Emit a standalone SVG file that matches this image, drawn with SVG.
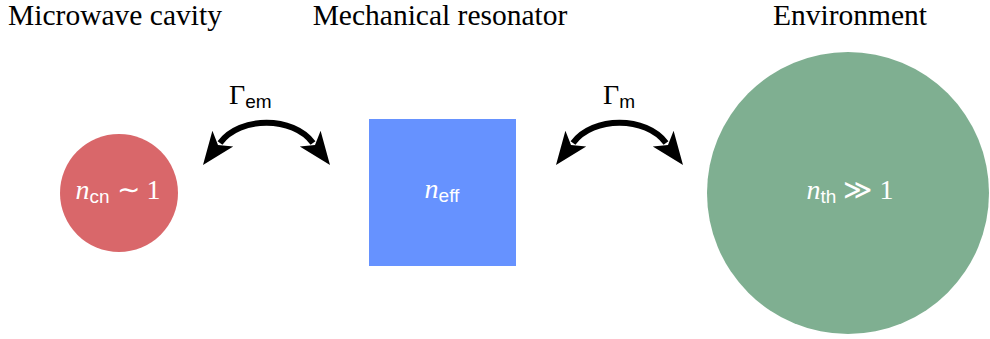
<svg xmlns="http://www.w3.org/2000/svg" width="990" height="339" viewBox="0 0 990 339">
<style>
.title{font-family:"Liberation Serif","Times New Roman",serif;font-size:29.5px;fill:#000;text-anchor:middle}
.lbl{font-family:"Liberation Serif","Times New Roman",serif;font-size:28px;fill:#000}
.sub{font-family:"Liberation Sans",Arial,sans-serif;font-size:19px}
.nt{font-family:"Liberation Serif","Times New Roman",serif;font-size:28px;fill:#fff}
.it{font-style:italic}
.arc{fill:none;stroke:#000;stroke-width:6}
.head{fill:#000}
</style>
<defs>
<path id="head" class="head" d="M0,0 L-33,-13 L-25,0 L-33,13 z"/>
</defs>
<rect width="990" height="339" fill="#fff"/>
<text class="title" x="115" y="25">Microwave cavity</text>
<text class="title" x="440" y="25">Mechanical resonator</text>
<text class="title" x="850" y="25">Environment</text>
<g id="cavity">
<circle cx="119" cy="193" r="59" fill="#d9676a"/>
<text class="nt" x="118" y="199" text-anchor="middle"><tspan class="it">n</tspan><tspan class="sub" dy="4">cn</tspan><tspan dy="-4"> ∼ 1</tspan></text>
</g>
<g id="resonator">
<rect x="369" y="119" width="147" height="147" fill="#6692ff"/>
<text class="nt" x="442" y="198" text-anchor="middle"><tspan class="it">n</tspan><tspan class="sub" dy="4">eff</tspan></text>
</g>
<g id="environment">
<circle cx="848" cy="193" r="141" fill="#7faf91"/>
<text class="nt" x="850" y="199" text-anchor="middle"><tspan class="it">n</tspan><tspan class="sub" dy="4">th</tspan><tspan dy="-4"> ≫ 1</tspan></text>
</g>
<g id="connectors">
<g id="link-em">
<path class="arc" d="M220,143 C240,116 293,116 313,143"/>
<use href="#head" transform="translate(203,165) rotate(126.87)"/>
<use href="#head" transform="translate(330,165) rotate(53.13)"/>
</g>
<g id="link-m" transform="translate(353,0)">
<path class="arc" d="M220,143 C240,116 293,116 313,143"/>
<use href="#head" transform="translate(203,165) rotate(126.87)"/>
<use href="#head" transform="translate(330,165) rotate(53.13)"/>
</g>
<text class="lbl" x="229" y="104"><tspan>Γ</tspan><tspan class="sub" dy="4">em</tspan></text>
<text class="lbl" x="603" y="104"><tspan>Γ</tspan><tspan class="sub" dy="4">m</tspan></text>
</g>
</svg>
